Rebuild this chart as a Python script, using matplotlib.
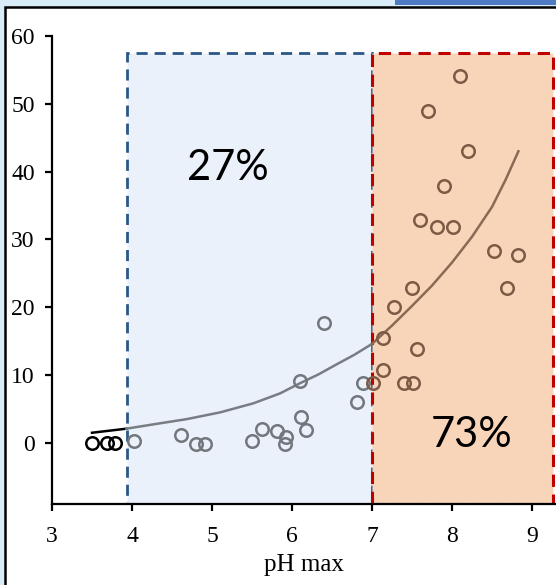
import numpy as np
import matplotlib
matplotlib.use("Agg")
import matplotlib.pyplot as plt
from matplotlib.patches import Rectangle

# data
ph_max = [3.50, 3.69, 3.79, 4.02, 4.61, 4.80, 4.91, 5.50, 5.63, 5.81, 5.92, 5.91,
          6.10, 6.11, 6.17, 6.40, 6.81, 6.89, 7.01, 7.14, 7.14, 7.27, 7.40, 7.51,
          7.50, 7.56, 7.60, 7.70, 7.81, 7.90, 8.01, 8.10, 8.20, 8.52, 8.69, 8.83]
value = [0.0, 0.0, 0.0, 0.3, 1.2, -0.2, -0.2, 0.3, 2.1, 1.7, 0.9, -0.2,
         9.1, 3.8, 1.9, 17.7, 6.0, 8.8, 8.8, 15.4, 10.8, 20.0, 8.8, 8.8,
         22.8, 13.8, 32.9, 49.0, 31.9, 37.9, 31.9, 54.1, 43.0, 28.3, 22.8, 27.7]

# trend line
trend_x = [3.50, 3.93, 4.30, 4.68, 5.10, 5.52, 5.85, 6.10, 6.33, 6.56, 6.78, 7.00,
           7.25, 7.50, 7.75, 8.00, 8.25, 8.50, 8.67, 8.83]
trend_y = [1.5, 2.1, 2.8, 3.5, 4.5, 5.85, 7.3, 8.8, 10.1, 11.6, 13.0, 14.6,
           17.3, 20.2, 23.2, 26.6, 30.4, 34.8, 38.8, 43.0]

left_share = "27%"
right_share = "73%"

fig = plt.figure(figsize=(5.56, 5.85), dpi=100)

# frame around the screenshot
fig.patches.append(Rectangle((0, 0), 1, 1, transform=fig.transFigure,
                             facecolor="#d9edf8", edgecolor="none", zorder=-3))
fig.patches.append(Rectangle((5 / 556, -0.01), 1, 1 - 7 / 585 + 0.01, transform=fig.transFigure,
                             facecolor="white", edgecolor="black", lw=1.8, zorder=-2))
fig.patches.append(Rectangle((395 / 556, 1 - 5 / 585), 1, 5 / 585, transform=fig.transFigure,
                             facecolor="#4f7bc4", edgecolor="none", zorder=-1))

ax = fig.add_axes([52 / 556, 80.7 / 585, 1 - 52 / 556, 468.3 / 585])
ax.set_facecolor("none")

x0, x1, x2 = 3.94, 7.0, 9.26
ymin, ytop = -9.05, 57.5

ax.add_patch(Rectangle((x0, ymin), x1 - x0, ytop - ymin, facecolor="#eaf1fa",
                       edgecolor="#2a5788", lw=2, ls=(0, (4, 2.5)), zorder=1))
ax.add_patch(Rectangle((x1, ymin), x2 - x1, ytop - ymin, facecolor="#f8d5b9",
                       edgecolor="#c00000", lw=2.2, ls=(0, (4, 2.5)), zorder=1))

# trend line, coloured per region
tx = np.array(trend_x)
ty = np.array(trend_y)
ax.plot(tx[tx <= 3.93], ty[tx <= 3.93], color="black", lw=1.8, zorder=2)
m = (tx >= 3.93) & (tx <= 7.0)
ax.plot(tx[m], ty[m], color="#787d83", lw=1.8, zorder=2)
ax.plot(tx[tx >= 7.0], ty[tx >= 7.0], color="#8a6a55", lw=1.8, zorder=2)

px = np.array(ph_max)
py = np.array(value)
colors = np.where(px < x0, "black", np.where(px < x1, "#72777c", "#7d5a45"))
for c in ["black", "#72777c", "#7d5a45"]:
    sel = colors == c
    ax.plot(px[sel], py[sel], "o", ms=9, mfc="none", mec=c, mew=1.8, zorder=3)

ax.text(5.2, 40.5, left_share, fontsize=30, family="Lato", ha="center", va="center", zorder=4)
ax.text(8.25, 1.2, right_share, fontsize=30, family="Lato", ha="center", va="center", zorder=4)

ax.set_xlim(3, 3 + 504 / 80)
ax.set_ylim(ymin, 60)
ax.set_xticks([3, 4, 5, 6, 7, 8, 9])
ax.set_yticks([0, 10, 20, 30, 40, 50, 60])
for s in ["top", "right"]:
    ax.spines[s].set_visible(False)
for s in ["left", "bottom"]:
    ax.spines[s].set_linewidth(1.6)
ax.tick_params(direction="out", length=5, width=1.6, labelsize=17)
ax.tick_params(axis="x", pad=10.5)
ax.tick_params(axis="y", pad=7.5)
for lab in ax.get_xticklabels() + ax.get_yticklabels():
    lab.set_family("Liberation Serif")
ax.set_xlabel("pH max", family="Liberation Serif", fontsize=18, labelpad=5)

fig.savefig("out.png", dpi=100)
